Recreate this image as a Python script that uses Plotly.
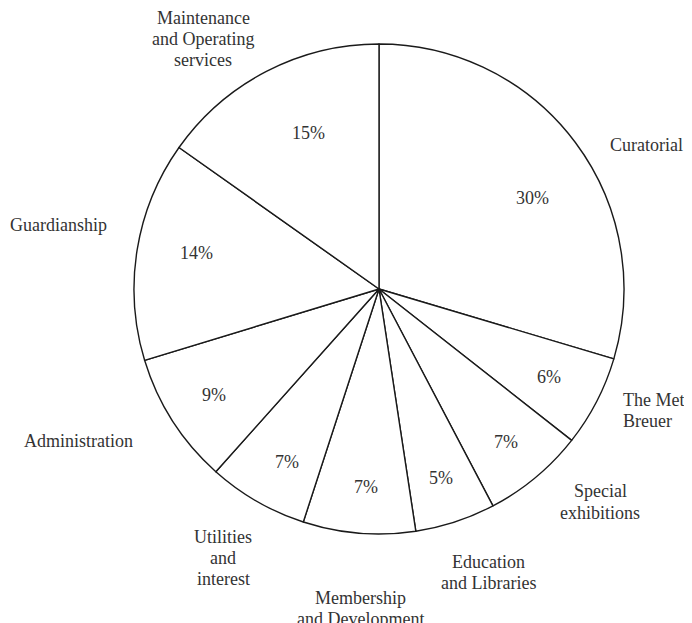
import math
import plotly.graph_objects as go

# Data (share of expenses)
categories = [
    "Curatorial", "The Met Breuer", "Special exhibitions", "Education and Libraries",
    "Membership and Development", "Utilities and interest", "Administration",
    "Guardianship", "Maintenance and Operating services",
]
values = [29.6, 6.0, 6.7, 5.3, 7.4, 6.6, 8.7, 14.5, 15.2]
pct_labels = ["30%", "6%", "7%", "5%", "7%", "7%", "9%", "14%", "15%"]

# Outside label lines and their placement (pixel positions of block centre)
label_lines = [
    ["Curatorial"], ["The Met", "Breuer"], ["Special", "exhibitions"],
    ["Education", "and Libraries"], ["Membership", "and Development"],
    ["Utilities", "and", "interest"], ["Administration"], ["Guardianship"],
    ["Maintenance", "and Operating", "services"],
]
label_px = [(638, 137), (613, 402), (592, 494), (480, 564),
            (352, 600), (215, 550), (70, 433), (50, 217), (195, 31)]
label_anchor = ["center", "left", "center", "center", "center", "center", "center", "center", "center"]

# Percentage label placement style: radial fraction and angular nudge (deg)
pct_rfrac = [0.73, 0.78, 0.81, 0.81, 0.81, 0.80, 0.80, 0.76, 0.70]
pct_nudge = [6, 0, 0, 0, -1, -2, 0, 2, 3]

W, H = 692, 623
CX, CY, R = 371, 281, 245
FONT = "Liberation Serif, DejaVu Serif, serif"
TXT = "#333333"
FS = 18
LINE_H = 21

fig = go.Figure(go.Pie(
    labels=categories,
    values=values,
    textinfo="none",
    sort=False,
    direction="clockwise",
    rotation=0,
    marker=dict(colors=["white"] * len(values), line=dict(color="#1a1a1a", width=1.4)),
    hoverinfo="none",
    showlegend=False,
    domain=dict(x=[(CX - R) / W, (CX + R) / W], y=[(H - CY - R) / H, (H - CY + R) / H]),
))

annotations = []
# category labels, one annotation per line
for lines, (px, py), anc in zip(label_lines, label_px, label_anchor):
    n = len(lines)
    for i, line in enumerate(lines):
        ly = py + (i - (n - 1) / 2) * LINE_H
        annotations.append(dict(
            x=px / W, y=1 - ly / H, xref="paper", yref="paper",
            text=line, showarrow=False, xanchor=anc, yanchor="middle",
            font=dict(family=FONT, size=FS, color=TXT),
        ))

# percentage labels at slice mid-angles derived from the values
total = sum(values)
cum = 0.0
for v, t, rf, nd in zip(values, pct_labels, pct_rfrac, pct_nudge):
    mid = (cum + v / 2) / total * 360 + nd
    cum += v
    a = math.radians(mid)
    px = CX + R * rf * math.sin(a)
    py = CY - R * rf * math.cos(a)
    annotations.append(dict(
        x=px / W, y=1 - py / H, xref="paper", yref="paper",
        text=t, showarrow=False, xanchor="center", yanchor="middle",
        font=dict(family=FONT, size=FS, color=TXT),
    ))

fig.update_layout(
    width=W, height=H,
    margin=dict(l=0, r=0, t=0, b=0),
    paper_bgcolor="white", plot_bgcolor="white",
    annotations=annotations,
)

fig.write_html("out.html")
